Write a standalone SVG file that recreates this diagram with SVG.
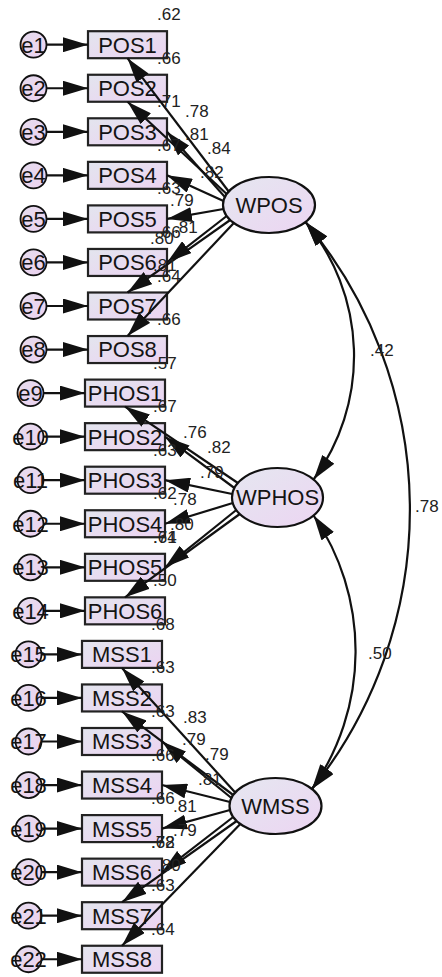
<svg xmlns="http://www.w3.org/2000/svg" width="442" height="977" viewBox="0 0 442 977">
<defs>
<linearGradient id="gb" x1="0" y1="0" x2="1" y2="1"><stop offset="0" stop-color="#e3e5ee"/><stop offset="1" stop-color="#ecd3f2"/></linearGradient>
<linearGradient id="gl" x1="0" y1="0" x2="1" y2="1"><stop offset="0" stop-color="#e5e7f0"/><stop offset="1" stop-color="#ecd5f2"/></linearGradient>
<linearGradient id="ge" x1="0" y1="0" x2="1" y2="1"><stop offset="0" stop-color="#e6dcee"/><stop offset="1" stop-color="#ecd2f0"/></linearGradient>
<marker id="ah" markerUnits="userSpaceOnUse" markerWidth="25" markerHeight="15" refX="25" refY="7.5" orient="auto" viewBox="0 0 25 15"><path d="M0,0 L25,7.5 L0,15 z" fill="#111"/></marker>
<marker id="ahs" markerUnits="userSpaceOnUse" markerWidth="25" markerHeight="15" refX="25" refY="7.5" orient="auto-start-reverse" viewBox="0 0 25 15"><path d="M0,0 L25,7.5 L0,15 z" fill="#111"/></marker>
</defs>
<style>
.box{fill:url(#gb);stroke:#222;stroke-width:2.2}
.lat{fill:url(#gl);stroke:#111;stroke-width:2.2}
.err{fill:url(#ge);stroke:#111;stroke-width:1.8}
.t{font-family:"Liberation Sans",Arial,sans-serif;font-size:22px;fill:#141414;text-anchor:middle}
.n{font-family:"Liberation Sans",Arial,sans-serif;font-size:17px;fill:#222}
.p{stroke:#111;stroke-width:2.2;fill:none;marker-end:url(#ah)}
.c{stroke:#111;stroke-width:2.2;fill:none;marker-start:url(#ahs);marker-end:url(#ah)}
</style>

<g id="e1"><circle class="err" cx="33.5" cy="44.7" r="13"/><text class="t" x="33.5" y="52.6">e1</text></g>
<g id="e2"><circle class="err" cx="33.5" cy="88.25" r="13"/><text class="t" x="33.5" y="96.15">e2</text></g>
<g id="e3"><circle class="err" cx="33.5" cy="131.8" r="13"/><text class="t" x="33.5" y="139.7">e3</text></g>
<g id="e4"><circle class="err" cx="33.5" cy="175.35" r="13"/><text class="t" x="33.5" y="183.25">e4</text></g>
<g id="e5"><circle class="err" cx="33.5" cy="218.9" r="13"/><text class="t" x="33.5" y="226.8">e5</text></g>
<g id="e6"><circle class="err" cx="33.5" cy="262.45" r="13"/><text class="t" x="33.5" y="270.35">e6</text></g>
<g id="e7"><circle class="err" cx="33.5" cy="306" r="13"/><text class="t" x="33.5" y="313.9">e7</text></g>
<g id="e8"><circle class="err" cx="33.5" cy="349.55" r="13"/><text class="t" x="33.5" y="357.45">e8</text></g>
<g id="e9"><circle class="err" cx="30.5" cy="393.1" r="13"/><text class="t" x="30.5" y="401">e9</text></g>
<g id="e10"><circle class="err" cx="30.5" cy="436.65" r="13"/><text class="t" x="30.5" y="444.55">e10</text></g>
<g id="e11"><circle class="err" cx="30.5" cy="480.2" r="13"/><text class="t" x="30.5" y="488.1">e11</text></g>
<g id="e12"><circle class="err" cx="30.5" cy="523.75" r="13"/><text class="t" x="30.5" y="531.65">e12</text></g>
<g id="e13"><circle class="err" cx="30.5" cy="567.3" r="13"/><text class="t" x="30.5" y="575.2">e13</text></g>
<g id="e14"><circle class="err" cx="30.5" cy="610.85" r="13"/><text class="t" x="30.5" y="618.75">e14</text></g>
<g id="e15"><circle class="err" cx="28.5" cy="654.4" r="13"/><text class="t" x="28.5" y="662.3">e15</text></g>
<g id="e16"><circle class="err" cx="28.5" cy="697.95" r="13"/><text class="t" x="28.5" y="705.85">e16</text></g>
<g id="e17"><circle class="err" cx="28.5" cy="741.5" r="13"/><text class="t" x="28.5" y="749.4">e17</text></g>
<g id="e18"><circle class="err" cx="28.5" cy="785.05" r="13"/><text class="t" x="28.5" y="792.95">e18</text></g>
<g id="e19"><circle class="err" cx="28.5" cy="828.6" r="13"/><text class="t" x="28.5" y="836.5">e19</text></g>
<g id="e20"><circle class="err" cx="28.5" cy="872.15" r="13"/><text class="t" x="28.5" y="880.05">e20</text></g>
<g id="e21"><circle class="err" cx="28.5" cy="915.7" r="13"/><text class="t" x="28.5" y="923.6">e21</text></g>
<g id="e22"><circle class="err" cx="28.5" cy="959.25" r="13"/><text class="t" x="28.5" y="967.15">e22</text></g>

<g id="POS1"><rect class="box" x="88" y="31.2" width="79" height="27"/><text class="t" x="127.5" y="52.6">POS1</text></g>
<g id="POS2"><rect class="box" x="88" y="74.75" width="79" height="27"/><text class="t" x="127.5" y="96.15">POS2</text></g>
<g id="POS3"><rect class="box" x="88" y="118.3" width="79" height="27"/><text class="t" x="127.5" y="139.7">POS3</text></g>
<g id="POS4"><rect class="box" x="88" y="161.85" width="79" height="27"/><text class="t" x="127.5" y="183.25">POS4</text></g>
<g id="POS5"><rect class="box" x="88" y="205.4" width="79" height="27"/><text class="t" x="127.5" y="226.8">POS5</text></g>
<g id="POS6"><rect class="box" x="88" y="248.95" width="79" height="27"/><text class="t" x="127.5" y="270.35">POS6</text></g>
<g id="POS7"><rect class="box" x="88" y="292.5" width="79" height="27"/><text class="t" x="127.5" y="313.9">POS7</text></g>
<g id="POS8"><rect class="box" x="88" y="336.05" width="79" height="27"/><text class="t" x="127.5" y="357.45">POS8</text></g>
<g id="PHOS1"><rect class="box" x="85" y="379.6" width="80" height="27"/><text class="t" x="125" y="401">PHOS1</text></g>
<g id="PHOS2"><rect class="box" x="85" y="423.15" width="80" height="27"/><text class="t" x="125" y="444.55">PHOS2</text></g>
<g id="PHOS3"><rect class="box" x="85" y="466.7" width="80" height="27"/><text class="t" x="125" y="488.1">PHOS3</text></g>
<g id="PHOS4"><rect class="box" x="85" y="510.25" width="80" height="27"/><text class="t" x="125" y="531.65">PHOS4</text></g>
<g id="PHOS5"><rect class="box" x="85" y="553.8" width="80" height="27"/><text class="t" x="125" y="575.2">PHOS5</text></g>
<g id="PHOS6"><rect class="box" x="85" y="597.35" width="80" height="27"/><text class="t" x="125" y="618.75">PHOS6</text></g>
<g id="MSS1"><rect class="box" x="82" y="640.9" width="80" height="27"/><text class="t" x="122" y="662.3">MSS1</text></g>
<g id="MSS2"><rect class="box" x="82" y="684.45" width="80" height="27"/><text class="t" x="122" y="705.85">MSS2</text></g>
<g id="MSS3"><rect class="box" x="82" y="728" width="80" height="27"/><text class="t" x="122" y="749.4">MSS3</text></g>
<g id="MSS4"><rect class="box" x="82" y="771.55" width="80" height="27"/><text class="t" x="122" y="792.95">MSS4</text></g>
<g id="MSS5"><rect class="box" x="82" y="815.1" width="80" height="27"/><text class="t" x="122" y="836.5">MSS5</text></g>
<g id="MSS6"><rect class="box" x="82" y="858.65" width="80" height="27"/><text class="t" x="122" y="880.05">MSS6</text></g>
<g id="MSS7"><rect class="box" x="82" y="902.2" width="80" height="27"/><text class="t" x="122" y="923.6">MSS7</text></g>
<g id="MSS8"><rect class="box" x="82" y="945.75" width="80" height="27"/><text class="t" x="122" y="967.15">MSS8</text></g>

<g id="WPOS"><ellipse class="lat" cx="269" cy="205" rx="46" ry="28"/><text class="t" x="269" y="212.9">WPOS</text></g>
<g id="WPHOS"><ellipse class="lat" cx="277.5" cy="497.5" rx="45.5" ry="29.5"/><text class="t" x="277.5" y="505.4">WPHOS</text></g>
<g id="WMSS"><ellipse class="lat" cx="275.5" cy="806" rx="46" ry="28"/><text class="t" x="275.5" y="813.9">WMSS</text></g>

<g id="connectors">
<path class="p" d="M46.5,44.7 L88,44.7"/>
<path class="p" d="M46.5,88.25 L88,88.25"/>
<path class="p" d="M46.5,131.8 L88,131.8"/>
<path class="p" d="M46.5,175.35 L88,175.35"/>
<path class="p" d="M46.5,218.9 L88,218.9"/>
<path class="p" d="M46.5,262.45 L88,262.45"/>
<path class="p" d="M46.5,306 L88,306"/>
<path class="p" d="M46.5,349.55 L88,349.55"/>
<path class="p" d="M43.5,393.1 L85,393.1"/>
<path class="p" d="M43.5,436.65 L85,436.65"/>
<path class="p" d="M43.5,480.2 L85,480.2"/>
<path class="p" d="M43.5,523.75 L85,523.75"/>
<path class="p" d="M43.5,567.3 L85,567.3"/>
<path class="p" d="M43.5,610.85 L85,610.85"/>
<path class="p" d="M41.5,654.4 L82,654.4"/>
<path class="p" d="M41.5,697.95 L82,697.95"/>
<path class="p" d="M41.5,741.5 L82,741.5"/>
<path class="p" d="M41.5,785.05 L82,785.05"/>
<path class="p" d="M41.5,828.6 L82,828.6"/>
<path class="p" d="M41.5,872.15 L82,872.15"/>
<path class="p" d="M41.5,915.7 L82,915.7"/>
<path class="p" d="M41.5,959.25 L82,959.25"/>

<path class="p" d="M228.7,191.5 L127.5,58.2"/>
<path class="p" d="M226.7,194 L127.5,101.75"/>
<path class="p" d="M224.9,197 L167,131.8"/>
<path class="p" d="M223.5,201 L167,175.35"/>
<path class="p" d="M223.5,209 L167,218.9"/>
<path class="p" d="M226.7,216 L167,262.45"/>
<path class="p" d="M230.2,220 L127.5,292.5"/>
<path class="p" d="M233.8,223 L127.5,336"/>

<path class="p" d="M237.9,483 L125,406.6"/>
<path class="p" d="M234.4,488 L165,436.65"/>
<path class="p" d="M232.3,494 L165,480.2"/>
<path class="p" d="M232.8,503 L165,523.75"/>
<path class="p" d="M236.3,510 L165,567.3"/>
<path class="p" d="M239.8,514 L125,597.35"/>

<path class="p" d="M235.2,792.5 L122,667.9"/>
<path class="p" d="M233.2,795 L122,711.45"/>
<path class="p" d="M231.4,798 L162,741.5"/>
<path class="p" d="M230,802 L162,785.05"/>
<path class="p" d="M230,810 L162,828.6"/>
<path class="p" d="M233.2,817 L162,872.15"/>
<path class="p" d="M236.7,821 L122,902.2"/>
<path class="p" d="M240.3,824 L122,945.75"/>

<path class="c" d="M305.5,222 A209,209 0 0 1 313.6,479.5"/>
<path class="c" d="M305.5,222 A448,448 0 0 1 312,789"/>
<path class="c" d="M313.6,515.5 A240,240 0 0 1 312,789"/>
</g>

<g id="labels">
<text class="n" x="157" y="20.2">.62</text>
<text class="n" x="157" y="63.75">.66</text>
<text class="n" x="157" y="107.3">.71</text>
<text class="n" x="157" y="150.85">.67</text>
<text class="n" x="157" y="194.4">.63</text>
<text class="n" x="157" y="237.95">.66</text>
<text class="n" x="157" y="281.5">.64</text>
<text class="n" x="157" y="325.05">.66</text>
<text class="n" x="153" y="368.6">.57</text>
<text class="n" x="153" y="412.15">.67</text>
<text class="n" x="153" y="455.7">.63</text>
<text class="n" x="153" y="499.25">.62</text>
<text class="n" x="153" y="542.8">.64</text>
<text class="n" x="153" y="586.35">.50</text>
<text class="n" x="151" y="629.9">.68</text>
<text class="n" x="151" y="673.45">.63</text>
<text class="n" x="151" y="717">.63</text>
<text class="n" x="151" y="760.55">.66</text>
<text class="n" x="151" y="804.1">.66</text>
<text class="n" x="151" y="847.65">.62</text>
<text class="n" x="151" y="891.2">.63</text>
<text class="n" x="151" y="934.75">.64</text>

<text class="n" x="185" y="117">.78</text>
<text class="n" x="185" y="140">.81</text>
<text class="n" x="207" y="154">.84</text>
<text class="n" x="200" y="178">.82</text>
<text class="n" x="170" y="206">.79</text>
<text class="n" x="174" y="233">.81</text>
<text class="n" x="150" y="244">.80</text>
<text class="n" x="153" y="271">.81</text>

<text class="n" x="183" y="438">.76</text>
<text class="n" x="207" y="453">.82</text>
<text class="n" x="200" y="478">.79</text>
<text class="n" x="173" y="505">.78</text>
<text class="n" x="170" y="530">.80</text>
<text class="n" x="153" y="543">.71</text>

<text class="n" x="183" y="723">.83</text>
<text class="n" x="182" y="745">.79</text>
<text class="n" x="205" y="760">.79</text>
<text class="n" x="198" y="785">.81</text>
<text class="n" x="173" y="812">.81</text>
<text class="n" x="173" y="836">.79</text>
<text class="n" x="151" y="848">.78</text>
<text class="n" x="157" y="871">.80</text>

<text class="n" x="370" y="356">.42</text>
<text class="n" x="415" y="512">.78</text>
<text class="n" x="368" y="659">.50</text>
</g>
</svg>
